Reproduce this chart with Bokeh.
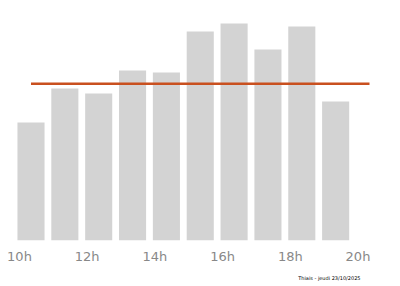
from bokeh.plotting import figure
from bokeh.models import FixedTicker, Title, ColumnDataSource
from bokeh.embed import file_html
from bokeh.resources import INLINE

hours = [10, 11, 12, 13, 14, 15, 16, 17, 18, 19, 20]
values = [118, 152, 147, 170, 168, 209, 217, 191, 214, 139, 0]
tick_hours = [10, 12, 14, 16, 18, 20]
tick_labels = ["10h", "12h", "14h", "16h", "18h", "20h"]
footer = "Thiais - jeudi 23/10/2025"

offset = 0.34
mean_val = sum(values) / len(values)

p = figure(width=400, height=286, output_backend="svg", toolbar_location=None,
           x_range=(9.439, 21.256), y_range=(0, 240),
           min_border_left=0, min_border_right=0, min_border_top=0, min_border_bottom=46)
p.outline_line_color = None
p.background_fill_color = "white"
p.border_fill_color = "white"
p.xgrid.visible = False
p.ygrid.visible = False
p.yaxis.visible = False

src = ColumnDataSource(dict(x=[h + offset for h in hours], top=values))
p.vbar(x="x", top="top", width=0.8, bottom=0, source=src,
       fill_color="#d3d3d3", line_color=None)

p.line(x=[hours[0] + offset, hours[-1] + offset], y=[mean_val, mean_val],
       line_color="#c9501f", line_width=2.5)

ax = p.xaxis[0]
ax.ticker = FixedTicker(ticks=tick_hours)
ax.major_label_overrides = {h: l for h, l in zip(tick_hours, tick_labels)}
ax.axis_line_color = None
ax.major_tick_line_color = None
ax.minor_tick_line_color = None
ax.major_label_text_color = "#888888"
ax.major_label_text_font = "DejaVu Sans"
ax.major_label_text_font_size = "13px"
ax.major_label_standoff = 2

t = Title(text=footer, text_font_size="5px", text_color="#000000",
          text_font="DejaVu Sans", text_font_style="normal",
          align="right", offset=40, standoff=12)
p.add_layout(t, "below")

open("out.html", "w").write(file_html(p, INLINE))
